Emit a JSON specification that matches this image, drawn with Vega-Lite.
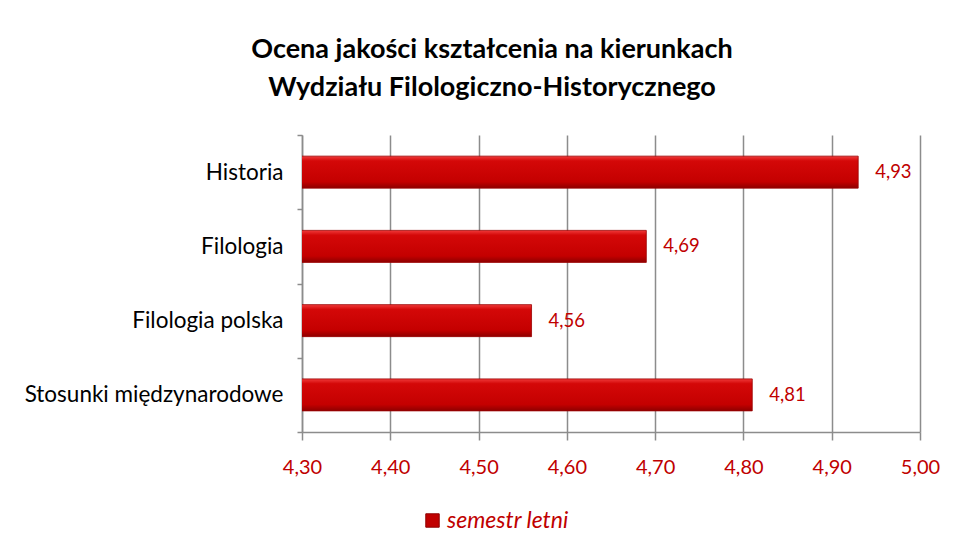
{
  "$schema": "https://vega.github.io/schema/vega-lite/v6.json",
  "autosize": "none",
  "width": 618,
  "height": 297,
  "padding": {"left": 302, "top": 135, "right": 38, "bottom": 116},
  "background": "white",
  "title": {
    "text": ["Ocena jakości kształcenia na kierunkach", "Wydziału Filologiczno-Historycznego"],
    "font": "Lato",
    "fontSize": 27,
    "fontWeight": "bold",
    "color": "#000000",
    "anchor": "middle",
    "frame": "group",
    "dx": -119,
    "offset": 22,
    "lineHeight": 38
  },
  "data": {
    "values": [
      {"kierunek": "Historia", "ocena": 4.93, "seria": "semestr letni"},
      {"kierunek": "Filologia", "ocena": 4.69, "seria": "semestr letni"},
      {"kierunek": "Filologia polska", "ocena": 4.56, "seria": "semestr letni"},
      {"kierunek": "Stosunki międzynarodowe", "ocena": 4.81, "seria": "semestr letni"}
    ]
  },
  "encoding": {
    "y": {
      "field": "kierunek",
      "type": "nominal",
      "sort": null,
      "title": null,
      "scale": {"paddingInner": 0, "paddingOuter": 0},
      "axis": {
        "domainColor": "#8c8c8c",
        "domainWidth": 1.5,
        "tickColor": "#8c8c8c",
        "tickWidth": 1.5,
        "tickSize": 5,
        "tickBand": "extent",
        "labelFont": "Lato",
        "labelFontSize": 22.5,
        "labelColor": "#000000",
        "labelPadding": 14,
        "grid": false,
        "labelLimit": 400
      }
    },
    "x": {
      "field": "ocena",
      "type": "quantitative",
      "title": null,
      "scale": {"domain": [4.3, 5.0], "nice": false, "zero": false},
      "axis": {
        "values": [4.3, 4.4, 4.5, 4.6, 4.7, 4.8, 4.9, 5.0],
        "format": ".2f",
        "domainColor": "#8c8c8c",
        "domainWidth": 1.5,
        "tickColor": "#8c8c8c",
        "tickWidth": 1.5,
        "tickSize": 8,
        "grid": true,
        "gridColor": "#8c8c8c",
        "gridWidth": 1.5,
        "labelFont": "Lato",
        "labelFontSize": 20,
        "labelColor": "#c00000",
        "labelPadding": 17,
        "labelFlush": false
      }
    }
  },
  "layer": [
    {
      "mark": {
        "type": "bar",
        "size": 32,
        "clip": true,
        "stroke": "#9a0000",
        "strokeWidth": 0.8,
        "fill": {
          "x1": 0, "y1": 0, "x2": 0, "y2": 1,
          "gradient": "linear",
          "stops": [
            {"offset": 0, "color": "#f03a3a"},
            {"offset": 0.15, "color": "#d40808"},
            {"offset": 0.8, "color": "#c40000"},
            {"offset": 1, "color": "#8e0000"}
          ]
        }
      },
      "encoding": {
        "color": {
          "field": "seria",
          "type": "nominal",
          "scale": {"range": ["#c00000"]},
          "legend": {
            "title": null,
            "orient": "none",
            "legendX": 119,
            "legendY": 374,
            "symbolType": "square",
            "symbolSize": 180,
            "symbolStrokeColor": "#8e0000",
            "symbolStrokeWidth": 1,
            "labelFont": "Lato",
            "labelFontSize": 23,
            "labelFontStyle": "italic",
            "labelColor": "#c00000",
            "labelOffset": 3
          }
        }
      }
    },
    {
      "mark": {
        "type": "text",
        "align": "left",
        "baseline": "middle",
        "dx": 17,
        "font": "Lato",
        "fontSize": 18.5,
        "color": "#c00000"
      },
      "encoding": {
        "text": {"field": "ocena", "type": "quantitative", "format": ".2f"}
      }
    }
  ],
  "config": {
    "view": {"stroke": null},
    "axis": {"labelFont": "Lato"},
    "locale": {
      "number": {
        "decimal": ",",
        "thousands": " ",
        "grouping": [3],
        "currency": ["", " zł"]
      }
    }
  }
}
